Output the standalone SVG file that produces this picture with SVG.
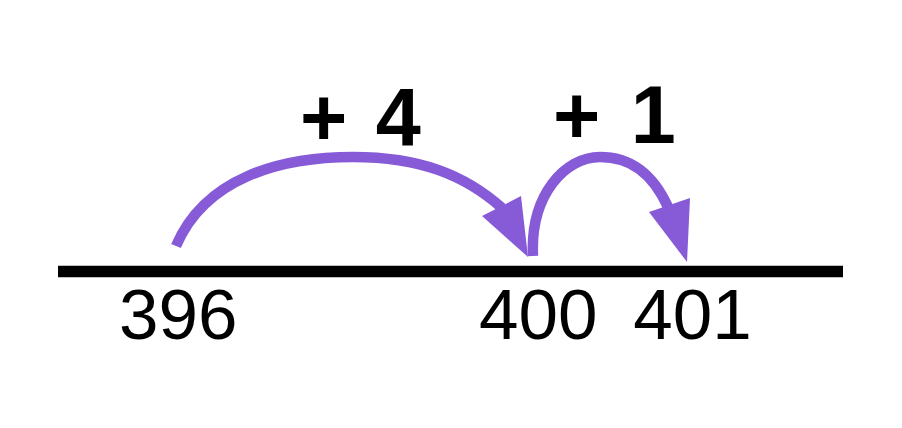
<svg xmlns="http://www.w3.org/2000/svg" width="902" height="428" viewBox="0 0 902 428">
<style>
.jump{fill:none;stroke:#875bd7;stroke-width:10.5;stroke-linecap:butt}
.head{fill:#875bd7}
.num{font-family:"Liberation Sans",Arial,sans-serif;font-size:71px;fill:#000}
.lbl{font-family:"Liberation Sans",Arial,sans-serif;font-size:81px;font-weight:bold;fill:#000}
</style>
<rect width="902" height="428" fill="#fff"/>
<g id="number-line">
<line x1="58" y1="271.5" x2="843" y2="271.5" stroke="#000" stroke-width="11.5"/>
</g>
<g id="n396"><text class="num" x="119" y="339">396</text></g>
<g id="n400-401"><text class="num" x="479" y="339" word-spacing="16">400 401</text></g>
<g id="label-plus4"><text class="lbl" x="300" y="145" word-spacing="6">+ 4</text></g>
<g id="label-plus1"><text class="lbl" x="553" y="143" word-spacing="8">+ 1</text></g>
<g id="connectors">
<path class="jump" d="M176,246 C205,178 280,157 353,157 C420,157 465,175 502,208"/>
<polygon class="head" points="482,216 521,196 528,257"/>
<path class="jump" d="M533,256 C530,195 565,157 600,157 C630,157 652,172 668,207"/>
<polygon class="head" points="649,212 690,198 687,262"/>
</g>
</svg>
